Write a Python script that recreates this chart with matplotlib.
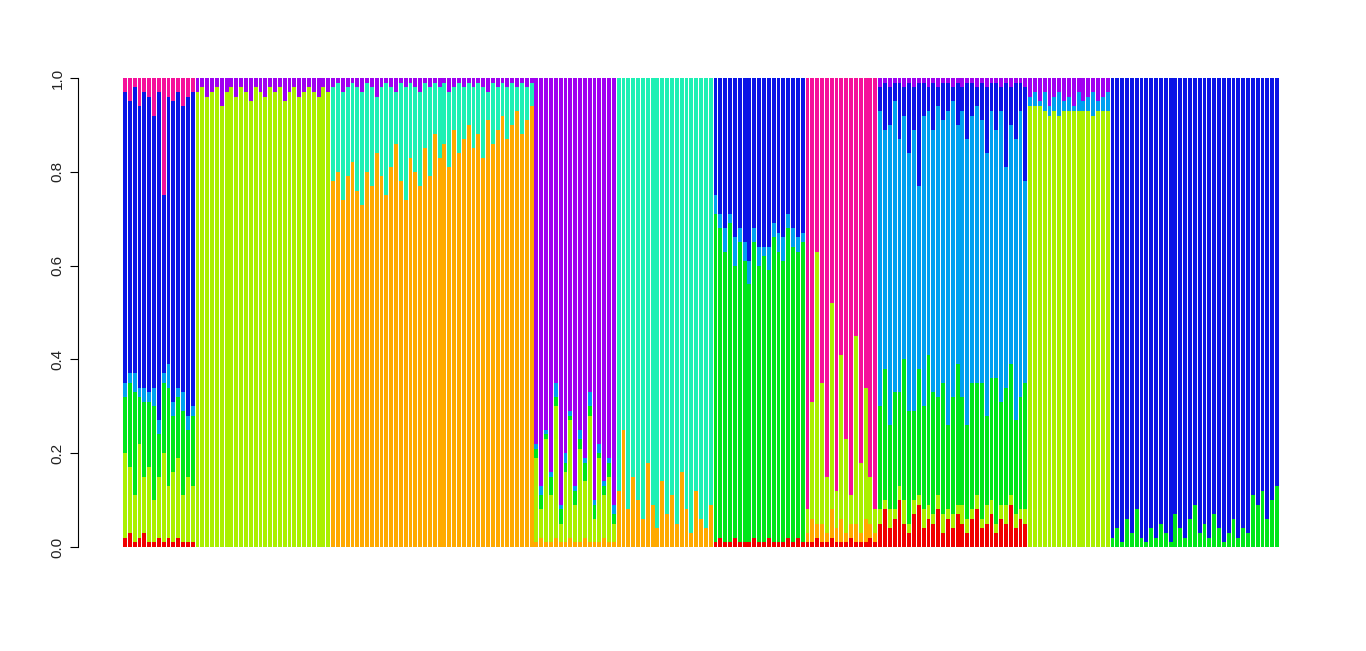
import matplotlib
matplotlib.use('Agg')
import matplotlib.pyplot as plt
import numpy as np

plt.rcParams['font.family'] = ['Liberation Sans', 'DejaVu Sans']

# cluster order, bottom to top of each bar
clusters = ['red', 'orange', 'ygreen', 'green', 'aqua', 'sky', 'blue', 'purple', 'pink']
colores = ['#F00000', '#FFAA00', '#AAF000', '#00E619', '#1EF0B4',
           '#00A0F0', '#0A14E6', '#A000F0', '#F5109A']

# group 1: blue
g1_red = [0.02, 0.03, 0.01, 0.02, 0.03, 0.01, 0.01, 0.02, 0.01, 0.02, 0.01, 0.02, 0.01, 0.01, 0.01]
g1_ygreen = [0.18, 0.14, 0.10, 0.20, 0.12, 0.16, 0.09, 0.13, 0.19, 0.11, 0.15, 0.17, 0.10, 0.14, 0.12]
g1_green = [0.12, 0.18, 0.22, 0.10, 0.16, 0.14, 0.20, 0.09, 0.15, 0.21, 0.12, 0.13, 0.18, 0.10, 0.15]
g1_sky = [0.03, 0.02, 0.04, 0.02, 0.03, 0.02, 0.04, 0.03, 0.02, 0.05, 0.03, 0.02, 0.04, 0.03, 0.02]
g1_pink = [0.03, 0.05, 0.02, 0.06, 0.03, 0.04, 0.08, 0.03, 0.25, 0.04, 0.05, 0.03, 0.06, 0.04, 0.03]

# group 2: yellow-green
g2_purple = [0.03, 0.02, 0.04, 0.03, 0.02, 0.06, 0.03, 0.02, 0.04, 0.02, 0.03, 0.05, 0.02, 0.03,
             0.04, 0.02, 0.03, 0.02, 0.05, 0.03, 0.02, 0.04, 0.03, 0.02, 0.03, 0.04, 0.02, 0.03]

# group 3: orange
g3_orange = [0.78, 0.80, 0.74, 0.79, 0.82, 0.76, 0.73, 0.80, 0.77, 0.84, 0.79, 0.75, 0.81, 0.86,
             0.78, 0.74, 0.83, 0.80, 0.77, 0.85, 0.79, 0.88, 0.83, 0.86, 0.81, 0.89, 0.84, 0.87,
             0.90, 0.85, 0.88, 0.83, 0.91, 0.86, 0.89, 0.92, 0.87, 0.90, 0.93, 0.88, 0.91, 0.94]
g3_purple = [0.02, 0.01, 0.03, 0.02, 0.01, 0.02, 0.03, 0.01, 0.02, 0.04, 0.02, 0.01, 0.02, 0.03,
             0.01, 0.02, 0.01, 0.02, 0.03, 0.01, 0.02, 0.01, 0.02, 0.01, 0.03, 0.02, 0.01, 0.02,
             0.01, 0.02, 0.01, 0.02, 0.03, 0.01, 0.02, 0.01, 0.02, 0.01, 0.02, 0.01, 0.02, 0.01]

# group 4: purple
g4_orange = [0.01, 0.02, 0.01, 0.01, 0.02, 0.01, 0.01, 0.02, 0.01, 0.01, 0.02, 0.01, 0.01, 0.01, 0.02, 0.01, 0.01]
g4_ygreen = [0.18, 0.06, 0.22, 0.10, 0.28, 0.04, 0.15, 0.25, 0.08, 0.20, 0.12, 0.27, 0.05, 0.18, 0.09, 0.14, 0.04]
g4_green = [0.02, 0.03, 0.01, 0.04, 0.02, 0.03, 0.02, 0.01, 0.03, 0.02, 0.04, 0.02, 0.03, 0.01, 0.02, 0.03, 0.02]
g4_sky = [0.01, 0.02, 0.01, 0.01, 0.03, 0.01, 0.02, 0.01, 0.01, 0.02, 0.01, 0.03, 0.01, 0.02, 0.01, 0.01, 0.02]

# group 5: aquamarine
g5_orange = [0.12, 0.25, 0.08, 0.15, 0.10, 0.06, 0.18, 0.09, 0.04, 0.14,
             0.07, 0.11, 0.05, 0.16, 0.08, 0.03, 0.12, 0.06, 0.04, 0.09]

# group 6: green / blue
g6_red = [0.01, 0.02, 0.01, 0.01, 0.02, 0.01, 0.01, 0.01, 0.02, 0.01, 0.01, 0.02, 0.01, 0.01, 0.01, 0.02, 0.01, 0.02, 0.01]
g6_green = [0.70, 0.66, 0.62, 0.68, 0.58, 0.64, 0.60, 0.55, 0.63, 0.59, 0.61, 0.57, 0.65, 0.62, 0.60, 0.66, 0.63, 0.61, 0.64]
g6_sky = [0.04, 0.03, 0.05, 0.02, 0.06, 0.03, 0.04, 0.05, 0.03, 0.04, 0.02, 0.05, 0.03, 0.04, 0.05, 0.03, 0.04, 0.03, 0.02]

# group 7: pink
g7_red = [0.01, 0.01, 0.02, 0.01, 0.01, 0.02, 0.01, 0.01, 0.01, 0.02, 0.01, 0.01, 0.01, 0.02, 0.01]
g7_orange = [0.02, 0.05, 0.03, 0.04, 0.02, 0.06, 0.03, 0.05, 0.02, 0.03, 0.04, 0.02, 0.05, 0.03, 0.02]
g7_ygreen = [0.05, 0.25, 0.58, 0.30, 0.12, 0.44, 0.08, 0.35, 0.20, 0.06, 0.40, 0.15, 0.28, 0.10, 0.05]

# group 8: sky blue
g8_red = [0.05, 0.08, 0.04, 0.06, 0.10, 0.05, 0.03, 0.07, 0.09, 0.04, 0.06, 0.05, 0.08, 0.03, 0.06, 0.04,
          0.07, 0.05, 0.03, 0.06, 0.08, 0.04, 0.05, 0.07, 0.03, 0.06, 0.05, 0.09, 0.04, 0.06, 0.05]
g8_ygreen = [0.03, 0.02, 0.04, 0.02, 0.03, 0.05, 0.02, 0.03, 0.02, 0.04, 0.03, 0.02, 0.03, 0.04, 0.02, 0.03,
             0.02, 0.04, 0.03, 0.02, 0.03, 0.02, 0.04, 0.03, 0.02, 0.03, 0.04, 0.02, 0.03, 0.02, 0.03]
g8_green = [0.22, 0.28, 0.18, 0.25, 0.20, 0.30, 0.24, 0.19, 0.27, 0.22, 0.32, 0.26, 0.21, 0.28, 0.18, 0.25,
            0.30, 0.23, 0.20, 0.27, 0.24, 0.29, 0.19, 0.26, 0.31, 0.22, 0.25, 0.28, 0.20, 0.24, 0.27]
g8_blue = [0.05, 0.10, 0.08, 0.04, 0.12, 0.06, 0.15, 0.09, 0.22, 0.07, 0.05, 0.10, 0.04, 0.08, 0.06, 0.03,
           0.09, 0.05, 0.12, 0.07, 0.04, 0.08, 0.14, 0.06, 0.10, 0.05, 0.18, 0.08, 0.12, 0.06, 0.20]
g8_purple = [0.02, 0.01, 0.02, 0.01, 0.01, 0.02, 0.01, 0.02, 0.01, 0.01, 0.02, 0.01, 0.02, 0.01, 0.01, 0.02,
             0.01, 0.02, 0.01, 0.01, 0.02, 0.01, 0.02, 0.01, 0.01, 0.02, 0.01, 0.02, 0.01, 0.01, 0.02]

# group 9: yellow-green
g9_sky = [0.02, 0.03, 0.01, 0.04, 0.02, 0.03, 0.05, 0.02, 0.03, 0.01, 0.04, 0.02, 0.03, 0.05, 0.02, 0.03, 0.04]
g9_purple = [0.04, 0.03, 0.05, 0.03, 0.06, 0.04, 0.03, 0.05, 0.04, 0.06, 0.03, 0.05, 0.04, 0.03, 0.05, 0.04, 0.03]

# group 10: blue
g10_green = [0.02, 0.04, 0.01, 0.06, 0.03, 0.08, 0.02, 0.01, 0.04, 0.02, 0.05, 0.03, 0.01, 0.07, 0.04, 0.02,
             0.06, 0.09, 0.03, 0.05, 0.02, 0.07, 0.04, 0.01, 0.03, 0.06, 0.02, 0.04, 0.03, 0.11, 0.09, 0.12,
             0.06, 0.10, 0.13]

y_ticks = [0.0, 0.2, 0.4, 0.6, 0.8, 1.0]


def group(dominant, **parts):
    n = len(next(iter(parts.values())))
    q = np.zeros((n, len(clusters)))
    for name, vals in parts.items():
        q[:, clusters.index(name)] = vals
    q[:, clusters.index(dominant)] = 1 - q.sum(axis=1)
    return q


Q = np.vstack([
    group('blue', red=g1_red, ygreen=g1_ygreen, green=g1_green, sky=g1_sky, pink=g1_pink),
    group('ygreen', purple=g2_purple),
    group('aqua', orange=g3_orange, purple=g3_purple),
    group('purple', orange=g4_orange, ygreen=g4_ygreen, green=g4_green, sky=g4_sky),
    group('aqua', orange=g5_orange),
    group('blue', red=g6_red, green=g6_green, sky=g6_sky),
    group('pink', red=g7_red, orange=g7_orange, ygreen=g7_ygreen),
    group('sky', red=g8_red, ygreen=g8_ygreen, green=g8_green, blue=g8_blue, purple=g8_purple),
    group('ygreen', sky=g9_sky, purple=g9_purple),
    group('blue', green=g10_green),
])

N = Q.shape[0]
x = np.arange(N)

fig = plt.figure(figsize=(13.66, 6.51), dpi=100)
ax = fig.add_axes([123 / 1366, 104 / 651, 1156 / 1366, 469 / 651])

bottom = np.zeros(N)
for k, color in enumerate(colores):
    ax.bar(x, Q[:, k], bottom=bottom, width=0.8, color=color, linewidth=0)
    bottom += Q[:, k]

ax.set_xlim(-0.4, N - 0.6)
ax.set_ylim(0, 1)
ax.set_xticks([])
ax.set_yticks(y_ticks)
ax.set_yticklabels([f'{t:.1f}' for t in y_ticks])
for s in ['top', 'right', 'bottom']:
    ax.spines[s].set_visible(False)
ax.spines['left'].set_position(('outward', 32.4))
ax.spines['left'].set_bounds(0, 1)
ax.tick_params(axis='y', length=5.8, width=0.8, pad=4, labelsize=11,
               labelrotation=90, labelcolor='#222222')
for lbl in ax.get_yticklabels():
    lbl.set_va('center')

fig.savefig('out.png', dpi=100)
